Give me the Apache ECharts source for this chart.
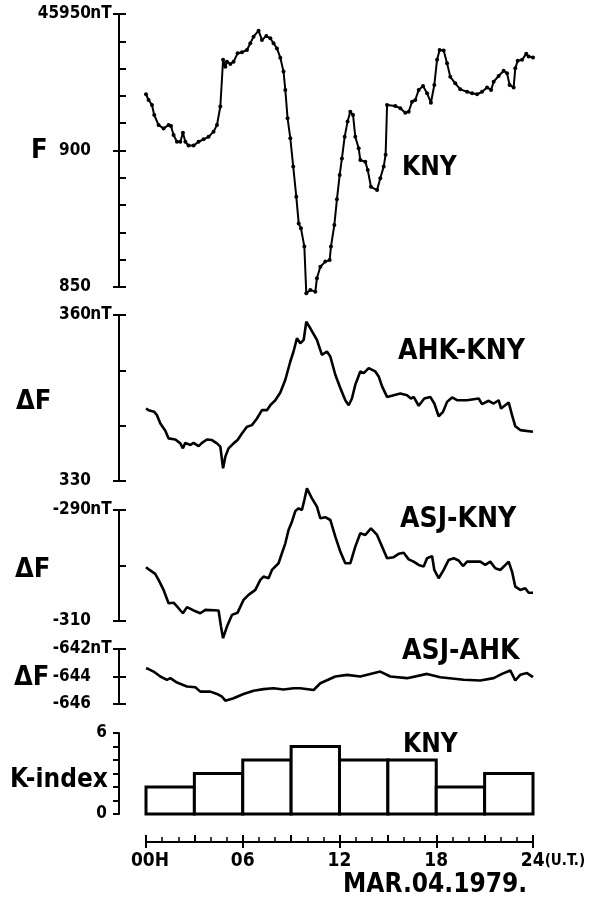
<!DOCTYPE html>
<html><head><meta charset="utf-8">
<script src="https://cdn.jsdelivr.net/npm/echarts@6/dist/echarts.min.js"></script>
<style>html,body{margin:0;padding:0;background:#fff}#c{width:595px;height:900px}</style>
</head><body><div id="c"></div>
<script>
const FONT = '"DejaVu Sans Condensed","DejaVu Sans",sans-serif';

// ---- data: [hour (U.T.), value] ----
const fKNY = [[0,920.6],[0.16,918.5],[0.37,916.7],[0.51,913],[0.78,909.3],[1.09,908.1],[1.4,909.3],[1.55,909],[1.71,905.7],[1.92,903.2],[2.13,903.2],[2.29,906.5],[2.44,903.2],[2.64,901.8],[2.95,901.8],[3.26,903.2],[3.57,904.1],[3.88,905],[4.19,906.9],[4.4,909.3],[4.61,916.1],[4.78,933.2],[4.92,930.7],[5.02,932.5],[5.23,931.7],[5.43,932.5],[5.68,935.6],[5.95,936],[6.26,936.8],[6.47,939.3],[6.67,941.7],[6.98,943.9],[7.19,940.5],[7.46,941.9],[7.71,941.1],[7.91,939.3],[8.12,937.4],[8.33,934],[8.53,928.9],[8.64,922.2],[8.78,911.8],[8.95,904.5],[9.13,894.1],[9.32,883.1],[9.47,873.3],[9.61,871.5],[9.82,864.8],[9.94,847.7],[10.19,848.9],[10.5,848.3],[10.6,853.2],[10.81,857.4],[11.12,859.3],[11.39,859.9],[11.47,864.8],[11.68,872.7],[11.84,882.1],[12.01,891],[12.15,897.1],[12.32,905],[12.5,910.6],[12.67,914.2],[12.84,913],[12.98,905],[13.19,900.8],[13.29,896.5],[13.6,895.9],[13.75,892.9],[13.95,886.7],[14.33,885.5],[14.53,889.8],[14.74,894.1],[14.86,898.4],[14.95,916.7],[15.46,916.3],[15.77,915.5],[16.08,913.8],[16.29,914.2],[16.5,917.9],[16.7,918.5],[16.91,922.2],[17.18,923.6],[17.43,921],[17.67,917.5],[17.88,924],[18.05,933.2],[18.21,936.8],[18.46,936.6],[18.67,932],[18.87,927],[19.18,924.6],[19.49,922.4],[19.91,921.5],[20.22,921],[20.53,920.6],[20.84,921.5],[21.15,923.1],[21.4,922.2],[21.56,925.2],[21.87,927.3],[22.18,929.2],[22.39,928.3],[22.55,924],[22.8,923.1],[22.9,930.1],[23.05,932.9],[23.32,933.2],[23.58,935.4],[23.73,934.4],[24,934.1]];

const dAHK_KNY = [[0,343.1],[0.16,342.8],[0.51,342.5],[0.68,341.9],[0.89,340.4],[1.2,339.1],[1.4,337.7],[1.82,337.5],[2.13,336.8],[2.29,335.9],[2.44,336.9],[2.75,336.5],[2.95,336.9],[3.26,336.3],[3.47,336.9],[3.78,337.5],[4.09,337.4],[4.4,336.8],[4.61,336.2],[4.78,332.3],[4.92,334.4],[5.12,335.9],[5.43,336.8],[5.68,337.4],[5.95,338.6],[6.26,339.8],[6.57,340.1],[6.88,341.3],[7.19,342.8],[7.5,342.8],[7.71,343.7],[8.02,344.6],[8.33,346],[8.64,348.3],[8.95,351.6],[9.15,353.4],[9.36,355.8],[9.57,354.9],[9.78,355.5],[9.94,358.8],[10.19,357.6],[10.6,355.5],[10.91,352.8],[11.22,353.4],[11.43,352.5],[11.74,349.2],[12.05,346.8],[12.36,344.6],[12.57,343.7],[12.77,344.9],[12.98,347.4],[13.29,349.8],[13.5,349.5],[13.81,350.4],[14.22,349.8],[14.43,348.9],[14.64,347.1],[14.95,345.2],[15.36,345.5],[15.77,345.8],[16.19,345.5],[16.43,344.9],[16.6,345.2],[16.91,343.6],[17.26,344.9],[17.63,345.2],[17.88,344.0],[18.15,341.7],[18.42,342.5],[18.67,344.3],[18.98,345.1],[19.29,344.6],[19.91,344.6],[20.63,344.9],[20.84,343.9],[21.25,344.5],[21.56,344.0],[21.87,344.6],[22.02,343.1],[22.49,344.2],[22.7,341.9],[22.9,339.9],[23.21,339.2],[24,338.9]];

const dASJ_KNY = [[0,-300.3],[0.22,-300.8],[0.57,-301.5],[0.78,-302.6],[1.09,-304.4],[1.4,-306.8],[1.71,-306.7],[2.02,-307.7],[2.29,-308.6],[2.54,-307.5],[2.95,-308.1],[3.37,-308.6],[3.68,-308.0],[4.5,-308.1],[4.65,-311.0],[4.78,-313.1],[5.02,-311.0],[5.33,-308.9],[5.68,-308.5],[6.05,-306.2],[6.36,-305.3],[6.78,-304.4],[7.09,-302.6],[7.29,-302.0],[7.6,-302.3],[7.81,-300.8],[8.22,-299.6],[8.43,-297.8],[8.64,-296],[8.84,-293.6],[9.05,-292.1],[9.26,-290.2],[9.47,-289.7],[9.67,-290.0],[9.82,-288.2],[9.98,-286.1],[10.29,-287.9],[10.6,-289.4],[10.81,-291.5],[11.12,-291.3],[11.43,-291.8],[11.74,-294.8],[12.05,-297.5],[12.36,-299.6],[12.67,-299.6],[12.98,-296.6],[13.29,-294.2],[13.6,-294.5],[13.95,-293.3],[14.33,-294.5],[14.64,-296.6],[14.95,-298.7],[15.36,-298.5],[15.67,-297.9],[15.98,-297.7],[16.29,-298.9],[16.6,-299.3],[16.91,-299.9],[17.22,-300.2],[17.43,-298.7],[17.74,-298.3],[17.88,-300.8],[18.15,-302.3],[18.46,-300.8],[18.77,-299.0],[19.08,-298.7],[19.39,-299.1],[19.66,-300.1],[19.91,-299.3],[20.73,-299.3],[21.04,-299.9],[21.35,-299.3],[21.66,-300.5],[21.97,-300.8],[22.22,-300.1],[22.49,-299.3],[22.7,-301.1],[22.9,-303.8],[23.21,-304.4],[23.52,-304.1],[23.73,-304.9],[24,-304.9]];

const dASJ_AHK = [[0,-643.4],[0.16,-643.46],[0.47,-643.64],[0.89,-644.0],[1.3,-644.24],[1.51,-644.12],[1.92,-644.44],[2.54,-644.73],[3.06,-644.78],[3.37,-645.1],[3.99,-645.1],[4.4,-645.27],[4.71,-645.47],[4.92,-645.76],[5.43,-645.58],[6.05,-645.27],[6.67,-645.03],[7.29,-644.92],[7.91,-644.85],[8.53,-644.95],[9.15,-644.85],[9.57,-644.85],[10.4,-644.98],[10.81,-644.49],[11.74,-644.0],[12.47,-643.88],[13.29,-644.0],[14.53,-643.64],[15.15,-644.0],[16.19,-644.12],[17.43,-643.81],[18.25,-644.05],[19.7,-644.24],[20.73,-644.29],[21.56,-644.12],[22.08,-643.81],[22.59,-643.56],[22.9,-644.29],[23.21,-643.88],[23.63,-643.75],[24,-644.05]];

const kStart = [0, 3, 6, 9, 12, 15, 18, 21];
const kValues = [2, 3, 4, 5, 4, 4, 2, 3];
const kBin = 3;

// tick labels
const fLabels = {950: '45950', 900: '900', 850: '850'};
const ahkKnyLabels = {360: '360', 330: '330'};
const asjKnyLabels = {'-290': '-290', '-310': '-310'};
const asjAhkLabels = {'-642': '-642', '-644': '-644', '-646': '-646'};
const kLabels = {6: '6', 0: '0'};
const hourLabels = ['00H', '06', '12', '18', '24'];
const hourUnit = '(U.T.)';
const unitNT = 'nT';

// ---- layout ----
const GL = 146, GW = 387, YOFF = 27;
const panels = [
  {top: 14, height: 273, min: 850, max: 950, interval: 10, outInt: 50, labels: fLabels},
  {top: 315, height: 166, min: 330, max: 360, interval: 10, outInt: 30, labels: ahkKnyLabels},
  {top: 510, height: 111, min: -310, max: -290, interval: 10, outInt: 20, labels: asjKnyLabels},
  {top: 649, height: 55, min: -646, max: -642, interval: 2, outInt: 2, labels: asjAhkLabels},
  {top: 733, height: 81, min: 0, max: 6, interval: 1, outInt: 1, labels: kLabels}
];

const labelStyle = {color: '#000', fontFamily: FONT, fontWeight: 'bold', fontSize: 17};
const grids = panels.map(p => ({left: GL, width: GW, top: p.top, height: p.height}));
const xAxes = [];
const yAxes = [];
panels.forEach((p, i) => {
  const isK = i === 4;
  if (!isK) xAxes.push({type: 'value', gridIndex: i, min: 0, max: 24, show: false});
  yAxes.push({
    type: 'value', gridIndex: i, min: p.min, max: p.max, interval: p.interval,
    position: 'left', offset: YOFF,
    axisLine: {show: true, onZero: false, lineStyle: {color: '#000', width: 2}},
    axisTick: {show: !isK, inside: true, length: 7, lineStyle: {color: '#000', width: 2}},
    splitLine: {show: false},
    axisLabel: {
      show: true, margin: isK ? 12 : 8, ...labelStyle,
      formatter: v => {
        const t = p.labels[v];
        if (t === undefined) return '';
        if (isK) return t;
        return v === p.max ? t + '{u|' + unitNT + '}' : t + '{s|}';
      },
      rich: {
        u: {...labelStyle, width: 20, align: 'left'},
        s: {...labelStyle, width: 20}
      }
    }
  });
  yAxes.push({
    type: 'value', gridIndex: i, min: p.min, max: p.max, interval: p.outInt,
    position: 'left', offset: YOFF,
    axisLine: {show: false, onZero: false},
    axisTick: {show: true, inside: false, length: 6, lineStyle: {color: '#000', width: 2}},
    axisLabel: {show: false}, splitLine: {show: false}
  });
});
// time axis (on K grid)
xAxes.push({
  type: 'value', gridIndex: 4, min: 0, max: 24, interval: 3, position: 'bottom', offset: 28,
  axisLine: {show: true, onZero: false, lineStyle: {color: '#000', width: 2}},
  axisTick: {show: true, inside: true, length: 7, lineStyle: {color: '#000', width: 2}},
  minorTick: {show: true, splitNumber: 3, length: 5, lineStyle: {color: '#000', width: 1.5}},
  axisLabel: {show: false}, splitLine: {show: false}
});
xAxes.push({
  type: 'value', gridIndex: 4, min: 0, max: 24, interval: 6, position: 'bottom', offset: 28,
  axisLine: {show: false, onZero: false},
  axisTick: {show: true, inside: false, length: 6, lineStyle: {color: '#000', width: 2}},
  splitLine: {show: false},
  axisLabel: {
    show: true, margin: 10, color: '#000', fontFamily: FONT, fontWeight: 'bold', fontSize: 19,
    formatter: v => {
      const t = hourLabels[v / 6];
      if (v === 0) return '{q|}' + t;
      return v === 24 ? '{p|}' + t + '{u|' + hourUnit + '}' : t;
    },
    rich: {
      q: {width: 8, fontSize: 15},
      p: {width: 40, fontSize: 15},
      u: {fontFamily: FONT, fontWeight: 'bold', fontSize: 15, color: '#000'}
    }
  }
});

function lineSeries(data, idx, withDots) {
  return {
    type: 'line', xAxisIndex: idx, yAxisIndex: idx * 2, data: data, clip: false,
    symbol: withDots ? 'circle' : 'none', symbolSize: 4, showSymbol: withDots,
    itemStyle: {color: '#000'},
    lineStyle: {color: '#000', width: withDots ? 2 : 2.6},
    silent: true
  };
}

const series = [
  lineSeries(fKNY, 0, true),
  lineSeries(dAHK_KNY, 1, false),
  lineSeries(dASJ_KNY, 2, false),
  lineSeries(dASJ_AHK, 3, false),
  {
    type: 'custom', xAxisIndex: 4, yAxisIndex: 8,
    data: kStart.map((s, i) => [s, kValues[i]]),
    renderItem: (params, api) => {
      const s = api.value(0), k = api.value(1);
      const p0 = api.coord([s, 0]);
      const p1 = api.coord([s + kBin, k]);
      return {type: 'rect', shape: {x: p0[0], y: p1[1], width: p1[0] - p0[0], height: p0[1] - p1[1]},
        style: {fill: '#fff', stroke: '#000', lineWidth: 3}};
    }
  }
];

function txt(text, x, y, size) {
  return {type: 'text', x: x, y: y, silent: true,
    style: {text: text, fill: '#000', font: 'bold ' + size + 'px ' + FONT, verticalAlign: 'middle', align: 'left'}};
}
const graphics = [
  txt('F', 31, 151, 27),
  txt('ΔF', 16, 402, 27),
  txt('ΔF', 15, 570, 27),
  txt('ΔF', 14, 678, 27),
  txt('K-index', 10, 780, 26),
  txt('KNY', 402, 168, 26),
  txt('AHK-KNY', 398, 352, 28),
  txt('ASJ-KNY', 400, 520, 28),
  txt('ASJ-AHK', 402, 652, 28),
  txt('KNY', 403, 745, 26),
  txt('MAR.04.1979.', 343, 885, 26)
];

const chart = echarts.init(document.getElementById('c'), null, {renderer: 'canvas'});
chart.setOption({
  animation: false,
  backgroundColor: '#fff',
  grid: grids,
  xAxis: xAxes,
  yAxis: yAxes,
  series: series,
  graphic: graphics
});
</script></body></html>
